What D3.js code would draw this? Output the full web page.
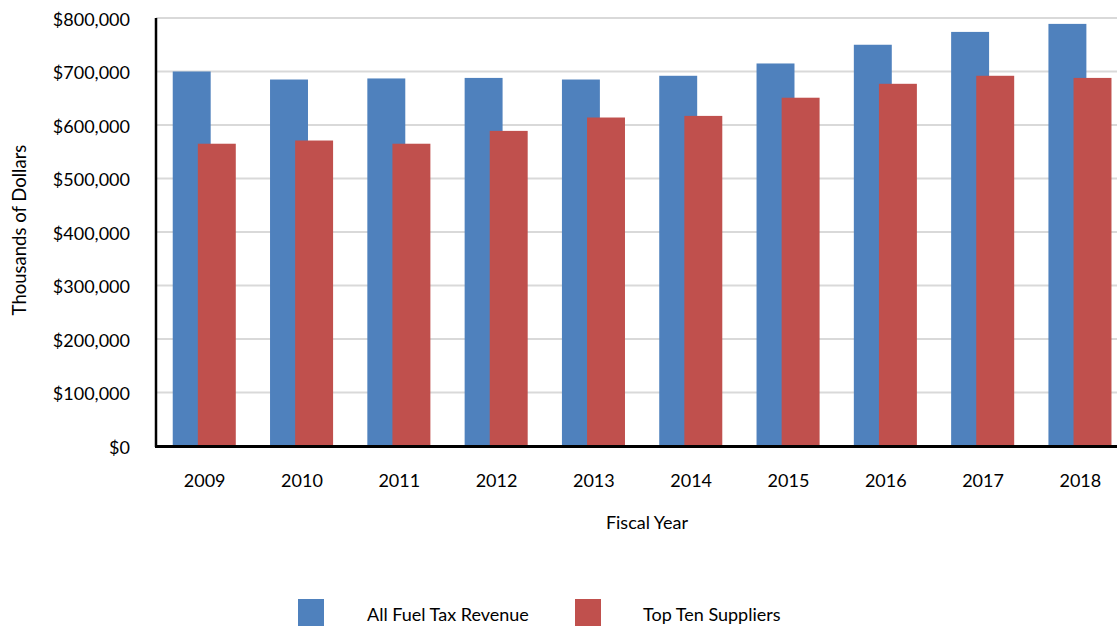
<!DOCTYPE html>
<html>
<head>
<meta charset="utf-8">
<script src="https://cdn.jsdelivr.net/npm/d3@7"></script>
<style>
  body { margin: 0; background: #fff; }
  text { font-family: Lato, "Open Sans", sans-serif; fill: #000; }
</style>
</head>
<body>
<script>
'use strict';

// chart data
let years = ["2009", "2010", "2011", "2012", "2013", "2014", "2015", "2016", "2017", "2018"];
let allFuel = [700000, 685000, 687000, 688000, 685000, 692000, 715000, 750000, 774000, 789000];
let topTen = [565000, 571000, 565000, 589000, 614000, 617000, 651000, 677000, 692000, 688000];
let yTicks = [0, 100000, 200000, 300000, 400000, 500000, 600000, 700000, 800000];
let seriesNames = ["All Fuel Tax Revenue", "Top Ten Suppliers"];
let colors = ["#4F81BD", "#C0504D"];

let width = 1117, height = 626;
let margin = { top: 18, left: 156, bottom: 446, right: 1129 };

let svg = d3.select("body")
  .append("svg")
  .attr("width", width)
  .attr("height", height);

let x = d3.scaleBand()
  .domain(years)
  .range([margin.left, margin.right]);

let y = d3.scaleLinear()
  .domain([0, 800000])
  .range([margin.bottom, margin.top]);

// gridlines
svg.append("g")
  .selectAll("line")
  .data(yTicks.slice(1))
  .enter()
  .append("line")
  .attr("x1", margin.left)
  .attr("x2", width)
  .attr("y1", d => y(d))
  .attr("y2", d => y(d))
  .style("stroke", "#d9d9d9")
  .style("stroke-width", "2px");

// bars
let bw = x.bandwidth();
let barW = bw * 0.39;
let offsets = [bw * 0.172, bw * 0.43];
[allFuel, topTen].forEach((series, i) => {
  svg.append("g")
    .selectAll("rect")
    .data(series)
    .enter()
    .append("rect")
    .attr("x", (d, j) => x(years[j]) + offsets[i])
    .attr("y", d => y(d))
    .attr("width", barW)
    .attr("height", d => y(0) - y(d))
    .attr("fill", colors[i]);
});

// y axis
let yAxis = d3.axisLeft(y)
  .tickValues(yTicks)
  .tickSize(0)
  .tickPadding(26)
  .tickFormat(d => "$" + d3.format(",")(d));

svg.append("g")
  .attr("transform", "translate(" + margin.left + ",0)")
  .call(yAxis)
  .call(g => g.select(".domain").remove())
  .selectAll("text")
  .attr("dy", "0.4em")
  .style("font-size", "18px");

svg.append("line")
  .attr("x1", margin.left).attr("x2", margin.left)
  .attr("y1", margin.top).attr("y2", margin.bottom + 1)
  .style("stroke", "#000").style("stroke-width", "2.5px");

// x axis
let xAxis = d3.axisBottom(x)
  .tickSize(0)
  .tickPadding(28);

svg.append("g")
  .attr("transform", "translate(0," + margin.bottom + ")")
  .call(xAxis)
  .call(g => g.select(".domain").remove())
  .selectAll("text")
  .style("font-size", "18px");

svg.append("line")
  .attr("x1", margin.left - 1).attr("x2", width)
  .attr("y1", margin.bottom + 0.5).attr("y2", margin.bottom + 0.5)
  .style("stroke", "#000").style("stroke-width", "3px");

// axis labels
svg.append("text")
  .attr("x", 647)
  .attr("y", 529)
  .style("text-anchor", "middle")
  .style("font-size", "18px")
  .text("Fiscal Year");

svg.append("text")
  .attr("transform", "translate(26,230) rotate(-90)")
  .style("text-anchor", "middle")
  .style("font-size", "18.5px")
  .text("Thousands of Dollars");

// legend
let legendX = [298, 575];
let textX = [367, 643];
seriesNames.forEach((name, i) => {
  svg.append("rect")
    .attr("x", legendX[i])
    .attr("y", 599)
    .attr("width", 26)
    .attr("height", 27)
    .attr("fill", colors[i]);
  svg.append("text")
    .attr("x", textX[i])
    .attr("y", 621)
    .style("font-size", "18px")
    .text(name);
});
</script>
</body>
</html>
